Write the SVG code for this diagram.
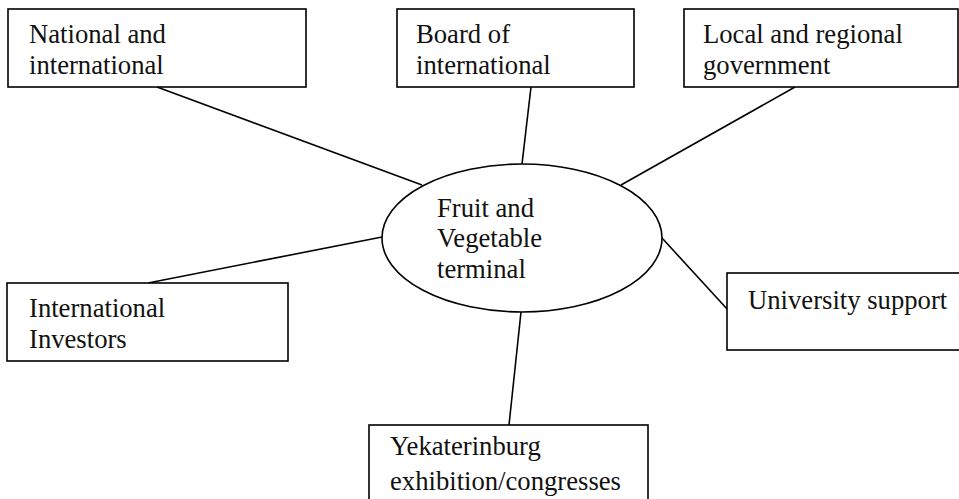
<svg xmlns="http://www.w3.org/2000/svg" width="959" height="499" viewBox="0 0 959 499">
<style>
.box{fill:#fff;stroke:#000;stroke-width:1.6}
.t{font-family:"Liberation Serif","Times New Roman",serif;font-size:26.67px;fill:#111}
.c{stroke:#000;stroke-width:1.6;fill:none}
</style>
<rect width="959" height="499" fill="#fff"/>
<g id="connectors">
<line class="c" x1="157" y1="87" x2="422" y2="185"/>
<line class="c" x1="531" y1="87" x2="522" y2="164"/>
<line class="c" x1="795" y1="87" x2="621" y2="185"/>
<line class="c" x1="148" y1="283" x2="382" y2="237"/>
<line class="c" x1="662" y1="238" x2="728" y2="310"/>
<line class="c" x1="521" y1="312" x2="509" y2="425"/>
</g>
<g id="national">
<rect class="box" x="8" y="9" width="298" height="78"/>
<text class="t" x="29" y="43">National and</text>
<text class="t" x="29" y="74">international</text>
</g>
<g id="board">
<rect class="box" x="397" y="9" width="237" height="78"/>
<text class="t" x="416" y="43">Board of</text>
<text class="t" x="416" y="74">international</text>
</g>
<g id="local">
<rect class="box" x="684" y="9" width="274" height="78"/>
<text class="t" x="703" y="43">Local and regional</text>
<text class="t" x="703" y="74">government</text>
</g>
<g id="terminal">
<ellipse class="box" cx="522" cy="238" rx="140" ry="74"/>
<text class="t" x="437" y="217">Fruit and</text>
<text class="t" x="437" y="247">Vegetable</text>
<text class="t" x="437" y="278">terminal</text>
</g>
<g id="investors">
<rect class="box" x="7" y="283" width="281" height="78"/>
<text class="t" x="29" y="317">International</text>
<text class="t" x="29" y="348">Investors</text>
</g>
<g id="university">
<rect class="box" x="727" y="273" width="240" height="77"/>
<text class="t" x="748" y="309">University support</text>
</g>
<g id="yekaterinburg">
<rect class="box" x="369" y="425" width="279" height="90"/>
<text class="t" x="390" y="455">Yekaterinburg</text>
<text class="t" x="390" y="490">exhibition/congresses</text>
</g>
</svg>
